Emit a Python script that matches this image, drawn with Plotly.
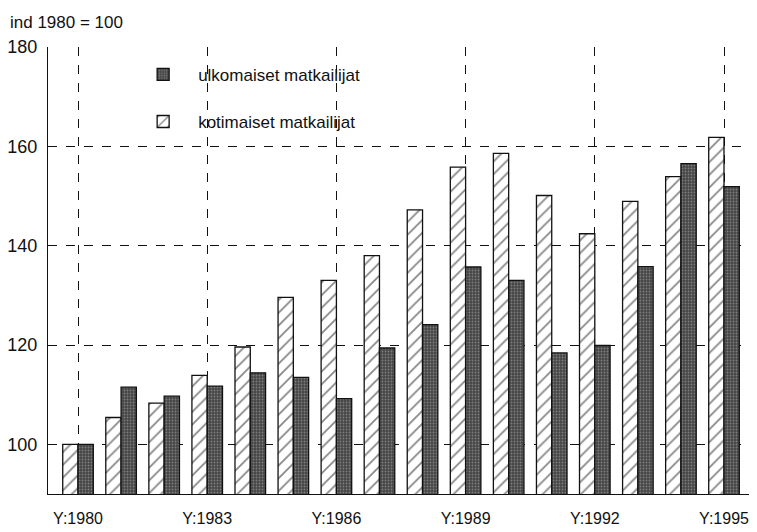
import plotly.graph_objects as go

years = list(range(1980, 1996))
kotimaiset = [100, 105.4, 108.3, 113.9, 119.6, 129.6, 133.0, 138.0, 147.2, 155.8,
              158.6, 150.1, 142.4, 148.9, 153.9, 161.8]
ulkomaiset = [100, 111.5, 109.7, 111.7, 114.4, 113.5, 109.2, 119.4, 124.1, 135.7,
              133.0, 118.4, 119.9, 135.8, 156.5, 151.9]
tick_years = [1980, 1983, 1986, 1989, 1992, 1995]
tick_text = [f"Y:{y}" for y in tick_years]

font = "Liberation Sans, Arial, sans-serif"

fig = go.Figure()
fig.add_trace(go.Bar(
    x=years, y=kotimaiset, name="kotimaiset matkailijat", legendgroup="k", legendrank=2,
    marker=dict(color="white", line=dict(color="#111", width=1.3),
                pattern=dict(shape="/", fgcolor="#111", bgcolor="white", size=9, solidity=0.2)),
))
fig.add_trace(go.Bar(
    x=years, y=ulkomaiset, name="ulkomaiset matkailijat", legendgroup="u", legendrank=1,
    marker=dict(color="#555555", line=dict(color="#111", width=1.3),
                pattern=dict(shape=".", fgcolor="#b5b5b5", bgcolor="#454545", size=3, solidity=0.3)),
))

# the page body adds an 8px offset, so the figure is 8px smaller than the window
fig.update_layout(
    width=749, height=524,
    margin=dict(l=40, r=6, t=39, b=38),
    paper_bgcolor="white", plot_bgcolor="white",
    barmode="group", bargap=0.29, bargroupgap=0,
    font=dict(family=font, size=16, color="#111"),
    showlegend=True,
    legend=dict(x=0.114, y=0.978, xanchor="left", yanchor="top",
                traceorder="grouped", tracegroupgap=22,
                bgcolor="rgba(0,0,0,0)", font=dict(size=17, family=font),
                itemwidth=60),
    annotations=[dict(text="ind 1980 = 100", x=0, y=1, xref="paper", yref="paper",
                      xshift=-40, yshift=36, showarrow=False, xanchor="left", yanchor="top",
                      font=dict(size=17, family=font))],
)
fig.update_xaxes(
    range=[1979.303, 1995.627], tickvals=tick_years, ticktext=tick_text,
    showgrid=True, gridcolor="#111", griddash="dash", gridwidth=1.2,
    showline=True, linecolor="#111", linewidth=1.3, ticks="",
    tickfont=dict(size=16), zeroline=False, automargin=False, ticklabelstandoff=10,
)
fig.update_yaxes(
    range=[90, 180], tickvals=[100, 120, 140, 160, 180],
    showgrid=True, gridcolor="#111", griddash="dash", gridwidth=1.2,
    showline=True, linecolor="#111", linewidth=1.3, ticks="",
    tickfont=dict(size=18), zeroline=False, automargin=False, ticklabelstandoff=6,
)

fig.write_html("out.html")
